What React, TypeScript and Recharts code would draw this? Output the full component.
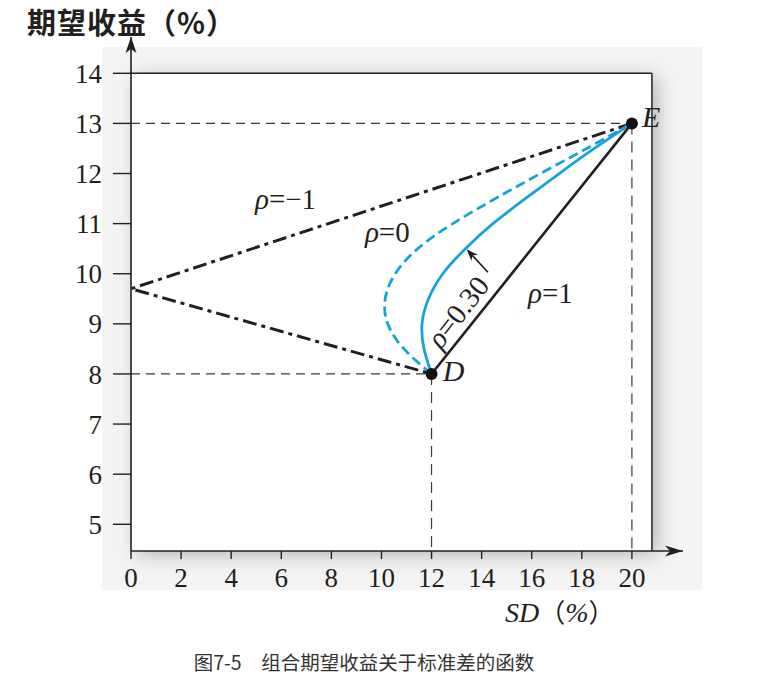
import { LineChart, Line, XAxis, YAxis, ReferenceLine, ReferenceDot } from "recharts";

const xTicks = [0, 2, 4, 6, 8, 10, 12, 14, 16, 18, 20];
const yTicks = [5, 6, 7, 8, 9, 10, 11, 12, 13, 14];

// D: SD 12%, return 8%; E: SD 20%, return 13%
const pointD = { sd: 12, ret: 8 };
const pointE = { sd: 20, ret: 13 };

const rhoNeg1Sd = [20, 0, 12];
const rhoNeg1Ret = [13, 9.7, 8];

const rho0Sd = [12, 10.9, 10.25, 10.15, 10.55, 11.45, 12.85, 14.55, 16.35, 18.2, 20];
const rho0Ret = [8, 8.5, 9, 9.5, 10, 10.5, 11, 11.5, 12, 12.5, 13];

const rho03Sd = [12, 11.7, 11.62, 11.88, 12.45, 13.35, 14.45, 15.75, 17.1, 18.5, 20];
const rho03Ret = [8, 8.5, 9, 9.5, 10, 10.5, 11, 11.5, 12, 12.5, 13];

const rho1Sd = [12, 20];
const rho1Ret = [8, 13];

const toRows = (sd: number[], ret: number[]) => sd.map((v, i) => ({ sd: v, ret: ret[i] }));

const INK = "#231f20";
const BLUE = "#17a2dc";
const SERIF = "'Liberation Serif', 'DejaVu Serif', serif";
const CJK = "'Noto Sans CJK SC', sans-serif";

const xMax = 22.04;
const yMin = 4.467;
const yMax = 14.724;
const boxRight = 20.8;

function UpArrow(props: any) {
  const { cx, cy } = props;
  return <path d={`M${cx},${cy} L${cx - 5.5},${cy + 16} L${cx},${cy + 12} L${cx + 5.5},${cy + 16} Z`} fill={INK} />;
}

function RightArrow(props: any) {
  const { cx, cy } = props;
  return <path d={`M${cx},${cy} L${cx - 18},${cy - 5.5} L${cx - 13},${cy} L${cx - 18},${cy + 5.5} Z`} fill={INK} />;
}

function ArrowLine(props: any) {
  const { x1, y1, x2, y2 } = props;
  const a = Math.atan2(y2 - y1, x2 - x1);
  const c = Math.cos(a);
  const s = Math.sin(a);
  const len = 12;
  const half = 4.5;
  const bx = x2 - len * c;
  const by = y2 - len * s;
  const nx = x2 - len * 0.7 * c;
  const ny = y2 - len * 0.7 * s;
  return (
    <g>
      <line x1={x1} y1={y1} x2={nx} y2={ny} stroke={INK} strokeWidth={1.6} />
      <path d={`M${x2},${y2} L${bx + half * s},${by - half * c} L${nx},${ny} L${bx - half * s},${by + half * c} Z`} fill={INK} />
    </g>
  );
}

const rhoLabel = (value: string) => (props: any) => (
  <text x={props.cx} y={props.cy} fontFamily={SERIF} fontSize={29} fill={INK}>
    <tspan fontStyle="italic">ρ</tspan>
    {value}
  </text>
);

const pointLabel = (name: string) => (props: any) => (
  <text x={props.cx} y={props.cy} fontFamily={SERIF} fontStyle="italic" fontSize={30} fill={INK}>
    {name}
  </text>
);

function RotatedLabel(props: any) {
  const { cx, cy } = props;
  return (
    <text
      x={cx}
      y={cy}
      textAnchor="middle"
      dominantBaseline="central"
      transform={`rotate(-52 ${cx} ${cy})`}
      fontFamily={SERIF}
      fontSize={29}
      fill={INK}
    >
      <tspan fontStyle="italic">ρ</tspan>=0.30
    </text>
  );
}

const guide = { stroke: "#3a3a3a", strokeWidth: 1.2, strokeDasharray: "9 6" };

export default function App() {
  return (
    <div style={{ position: "absolute", left: 0, top: 0, width: 762, height: 680, background: "#fff" }}>
      <div style={{ position: "absolute", left: 102, top: 47, width: 600, height: 543, background: "#f4f4f4" }} />
      <div
        style={{
          position: "absolute",
          left: 131,
          top: 73,
          width: 521,
          height: 478,
          background: "#fff",
          boxShadow: "6px 4px 18px rgba(0,0,0,0.25)",
        }}
      />
      <div style={{ position: "absolute", left: 0, top: 0 }}>
        <LineChart width={762} height={680} margin={{ top: 37, right: 79, bottom: 99, left: 0 }}>
          <XAxis
            type="number"
            dataKey="sd"
            domain={[0, xMax]}
            ticks={xTicks}
            allowDataOverflow
            height={30}
            tickSize={8}
            tickMargin={9}
            axisLine={{ stroke: INK, strokeWidth: 1.6 }}
            tickLine={{ stroke: INK, strokeWidth: 1.4 }}
            tick={{ fontSize: 27, fill: INK, fontFamily: SERIF }}
          />
          <YAxis
            type="number"
            dataKey="ret"
            domain={[yMin, yMax]}
            ticks={yTicks}
            allowDataOverflow
            width={131}
            tickSize={18}
            tickMargin={11}
            axisLine={{ stroke: INK, strokeWidth: 1.6 }}
            tickLine={{ stroke: INK, strokeWidth: 1.4 }}
            tick={{ fontSize: 27, fill: INK, fontFamily: SERIF }}
          />

          <ReferenceLine segment={[{ x: 0, y: 14 }, { x: boxRight, y: 14 }]} stroke={INK} strokeWidth={1.5} />
          <ReferenceLine segment={[{ x: boxRight, y: 14 }, { x: boxRight, y: yMin }]} stroke={INK} strokeWidth={1.5} />

          <ReferenceLine segment={[{ x: 0, y: pointE.ret }, { x: pointE.sd, y: pointE.ret }]} {...guide} />
          <ReferenceLine segment={[{ x: 0, y: pointD.ret }, { x: pointD.sd, y: pointD.ret }]} {...guide} />
          <ReferenceLine segment={[{ x: pointD.sd, y: pointD.ret }, { x: pointD.sd, y: yMin }]} {...guide} strokeDasharray="11 7" />
          <ReferenceLine segment={[{ x: pointE.sd, y: pointE.ret }, { x: pointE.sd, y: yMin }]} {...guide} strokeDasharray="11 7" />

          <Line
            data={toRows(rhoNeg1Sd, rhoNeg1Ret)}
            dataKey="ret"
            type="linear"
            stroke={INK}
            strokeWidth={3}
            strokeDasharray="14 5 4 5"
            dot={false}
            isAnimationActive={false}
          />
          <Line
            data={toRows(rho0Sd, rho0Ret)}
            dataKey="ret"
            type="natural"
            stroke={BLUE}
            strokeWidth={2.8}
            strokeDasharray="10 5"
            dot={false}
            isAnimationActive={false}
          />
          <Line
            data={toRows(rho03Sd, rho03Ret)}
            dataKey="ret"
            type="natural"
            stroke={BLUE}
            strokeWidth={2.8}
            dot={false}
            isAnimationActive={false}
          />
          <Line
            data={toRows(rho1Sd, rho1Ret)}
            dataKey="ret"
            type="linear"
            stroke={INK}
            strokeWidth={2.6}
            dot={false}
            isAnimationActive={false}
          />

          <ReferenceLine segment={[{ x: 14.25, y: 10.03 }, { x: 13.4, y: 10.49 }]} shape={ArrowLine} />

          <ReferenceDot x={pointD.sd} y={pointD.ret} r={6} fill="#111" stroke="none" />
          <ReferenceDot x={pointE.sd} y={pointE.ret} r={6} fill="#111" stroke="none" />

          <ReferenceDot x={4.95} y={11.29} r={0} shape={rhoLabel("=−1")} />
          <ReferenceDot x={9.34} y={10.64} r={0} shape={rhoLabel("=0")} />
          <ReferenceDot x={15.85} y={9.41} r={0} shape={rhoLabel("=1")} />
          <ReferenceDot x={13.05} y={9.24} r={0} shape={RotatedLabel} />
          <ReferenceDot x={20.4} y={12.93} r={0} shape={pointLabel("E")} />
          <ReferenceDot x={12.45} y={7.86} r={0} shape={pointLabel("D")} />

          <ReferenceDot x={0} y={yMax} r={0} ifOverflow="visible" shape={UpArrow} />
          <ReferenceDot x={xMax} y={yMin} r={0} ifOverflow="visible" shape={RightArrow} />
        </LineChart>
      </div>
      <svg width={762} height={680} style={{ position: "absolute", left: 0, top: 0, pointerEvents: "none" }}>
        <text x={27} y={34} fontFamily={CJK} fontWeight={700} fontSize={29} letterSpacing={1} fill={INK}>
          期望收益（%）
        </text>
        <text x={505} y={622} fontFamily={SERIF} fontSize={28} fill={INK}>
          <tspan fontStyle="italic">SD</tspan>
          <tspan fontFamily={CJK} fontSize={26}>（</tspan>
          <tspan fontStyle="italic">%</tspan>
          <tspan fontFamily={CJK} fontSize={26}>）</tspan>
        </text>
        <text x={364} y={670} textAnchor="middle" fontFamily={CJK} fontSize={19.5} fill="#333">
          图7-5　组合期望收益关于标准差的函数
        </text>
      </svg>
    </div>
  );
}
